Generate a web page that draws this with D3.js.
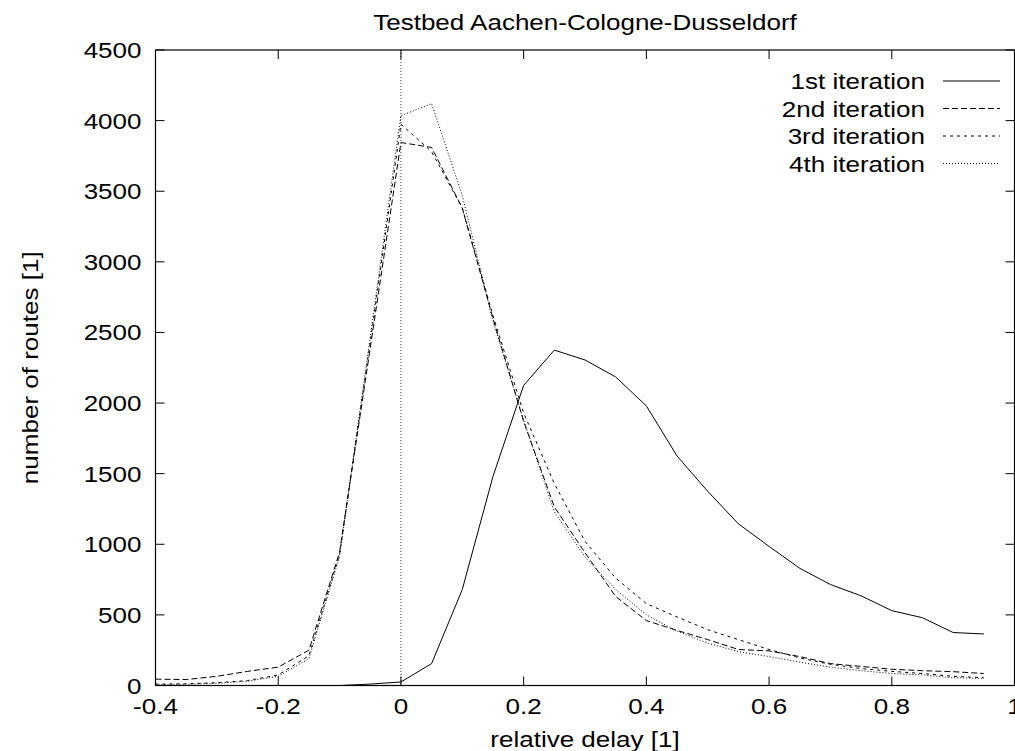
<!DOCTYPE html>
<html>
<head>
<meta charset="utf-8">
<script src="https://cdn.jsdelivr.net/npm/d3@7"></script>
<style>
  body { margin: 0; background: #fff; }
  text { font-family: "Liberation Sans", Arial, sans-serif; font-size: 21.5px; fill: #000; }
</style>
</head>
<body>
<div id="chart"></div>
<script>
const width = 1015
const height = 751
const margin = { top: 50, bottom: 65.5, left: 155.5, right: 0.5 }

// relative delay (x) for every sample
const delay = [-0.4, -0.35, -0.3, -0.25, -0.2, -0.15, -0.1, -0.05, 0, 0.05, 0.1, 0.15, 0.2, 0.25,
               0.3, 0.35, 0.4, 0.45, 0.5, 0.55, 0.6, 0.65, 0.7, 0.75, 0.8, 0.85, 0.9, 0.95]
const iter1 = [0, 0, 0, 0, 0, 0, 0, 10, 25, 155, 680, 1480, 2125, 2375,
               2305, 2185, 1980, 1625, 1375, 1145, 985, 830, 715, 635, 530, 480, 375, 365]
const iter2 = [45, 42, 65, 100, 130, 250, 945, 2390, 3845, 3810, 3380, 2600, 1870, 1265,
               940, 630, 460, 390, 325, 255, 245, 205, 155, 135, 115, 105, 98, 85]
const iter3 = [10, 12, 20, 35, 75, 210, 930, 2430, 3975, 3780, 3380, 2620, 1930, 1430,
               1020, 760, 580, 485, 395, 325, 255, 195, 150, 120, 100, 85, 65, 55]
const iter4 = [5, 8, 15, 30, 65, 190, 915, 2470, 4035, 4120, 3470, 2580, 1880, 1230,
               910, 680, 500, 385, 300, 240, 205, 165, 130, 105, 85, 75, 55, 50]

const seriesNames = ["1st iteration", "2nd iteration", "3rd iteration", "4th iteration"]
const seriesValues = [iter1, iter2, iter3, iter4]
const dashes = [null, "6,3", "3,4", "1,2"]

const xTicks = [-0.4, -0.2, 0, 0.2, 0.4, 0.6, 0.8, 1]
const yTicks = [0, 500, 1000, 1500, 2000, 2500, 3000, 3500, 4000, 4500]

const innerW = width - margin.left - margin.right
const innerH = height - margin.top - margin.bottom
const sx = 1.21 // text is stretched horizontally in the original

const svg = d3.select("div#chart").append("svg").attr("width", width).attr("height", height)
const g = svg.append("g").attr("transform", `translate(${margin.left}, ${margin.top})`)

const x = d3.scaleLinear().domain([-0.4, 1]).range([0, innerW])
const y = d3.scaleLinear().domain([0, 4500]).range([innerH, 0])

function label(parent, txt, px, py, anchor, rot) {
    return parent.append("text").text(txt)
        .attr("text-anchor", anchor)
        .attr("transform", `translate(${px}, ${py})` + (rot ? ` rotate(${rot})` : "") + ` scale(${sx}, 1)`)
}

// zero axis
g.append("line")
    .attr("x1", x(0)).attr("x2", x(0)).attr("y1", 0).attr("y2", innerH)
    .attr("stroke", "#000").attr("stroke-width", 0.8).attr("stroke-dasharray", "1,2")

// ticks, mirrored on all four sides
const tl = 9
yTicks.forEach(t => {
    g.append("line").attr("x1", 0).attr("x2", tl).attr("y1", y(t)).attr("y2", y(t)).attr("stroke", "#000")
    g.append("line").attr("x1", innerW - tl).attr("x2", innerW).attr("y1", y(t)).attr("y2", y(t)).attr("stroke", "#000")
    label(g, t, -14, y(t) + 8, "end")
})
xTicks.forEach(t => {
    g.append("line").attr("x1", x(t)).attr("x2", x(t)).attr("y1", innerH).attr("y2", innerH - tl).attr("stroke", "#000")
    g.append("line").attr("x1", x(t)).attr("x2", x(t)).attr("y1", 0).attr("y2", tl).attr("stroke", "#000")
    label(g, t, x(t), innerH + 28, "middle")
})

// border
g.append("rect").attr("x", 0).attr("y", 0).attr("width", innerW).attr("height", innerH)
    .attr("fill", "none").attr("stroke", "#000").attr("stroke-width", 1.2)

// series
const line = d3.line().x((d, i) => x(delay[i])).y(d => y(d))
seriesValues.forEach((vals, k) => {
    g.append("path").datum(vals)
        .attr("d", line)
        .attr("fill", "none")
        .attr("stroke", "#000")
        .attr("stroke-width", 1)
        .attr("stroke-dasharray", dashes[k])
})

// legend
seriesNames.forEach((name, k) => {
    const ly = 31 + k * 27.5
    label(g, name, 925 - margin.left, ly + 8, "end")
    g.append("line").attr("x1", 943 - margin.left).attr("x2", 1000 - margin.left)
        .attr("y1", ly).attr("y2", ly)
        .attr("stroke", "#000").attr("stroke-width", 1).attr("stroke-dasharray", dashes[k])
})

// titles
label(svg, "Testbed Aachen-Cologne-Dusseldorf", margin.left + innerW / 2, 30, "middle")
label(svg, "relative delay [1]", margin.left + innerW / 2, 747, "middle")
label(svg, "number of routes [1]", 38, margin.top + innerH / 2, "middle", -90)
</script>
</body>
</html>
